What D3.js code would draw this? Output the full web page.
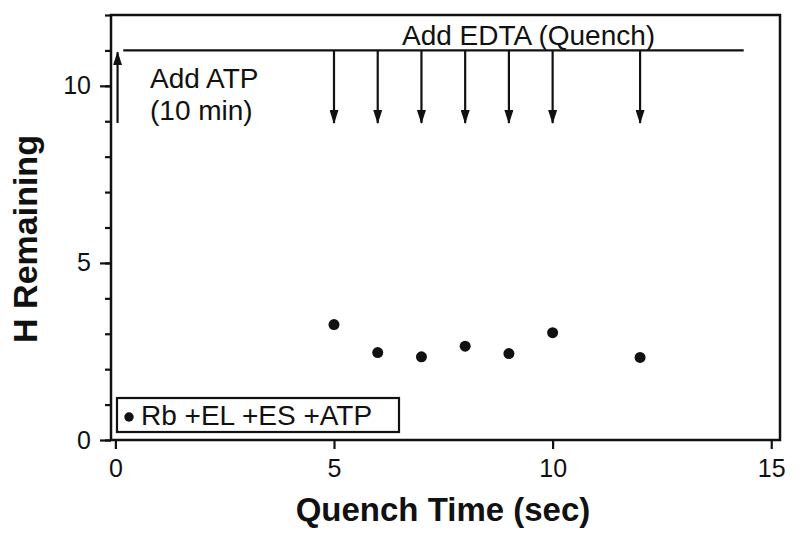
<!DOCTYPE html>
<html>
<head>
<meta charset="utf-8">
<script src="https://cdn.jsdelivr.net/npm/d3@7"></script>
<style>
    body { margin: 0; background: #fff; }
    svg { font-family: "Liberation Sans", Arial, Helvetica, sans-serif; }
    .tick-label { font-size: 25px; fill: #111; }
    .note { font-size: 28px; fill: #111; }
    .axis-title { font-size: 33px; font-weight: bold; fill: #111; }
</style>
</head>
<body>
<svg id="chart" width="800" height="544"></svg>
<script>
// data
const quench_times = [5, 6, 7, 8, 9, 10, 12];
const h_remaining = [3.26, 2.47, 2.35, 2.65, 2.44, 3.03, 2.33];
const x_ticks = [0, 5, 10, 15];
const y_ticks = [0, 5, 10];
const y_minor = [0, 1, 2, 3, 4, 5, 6, 7, 8, 9, 10, 11, 12];
const legend_label = "Rb +EL +ES +ATP";

const points = quench_times.map((t, i) => ({ t: t, h: h_remaining[i] }));

const svg = d3.select("#chart");

const x = d3.scaleLinear().domain([-0.1, 15.2]).range([111, 780]),
      y = d3.scaleLinear().domain([0, 12]).range([440, 15]);

// arrowheads (pointing along +x, rotated by orient)
const defs = svg.append("defs");
defs.append("marker")
    .attr("id", "head")
    .attr("viewBox", "0 0 14 9")
    .attr("refX", 13).attr("refY", 4.5)
    .attr("markerWidth", 14).attr("markerHeight", 9)
    .attr("markerUnits", "userSpaceOnUse")
    .attr("orient", "auto")
    .append("path")
    .attr("d", "M0,0 L14,4.5 L0,9 Z")
    .attr("fill", "#111");

// frame
svg.append("rect")
    .attr("x", x.range()[0])
    .attr("y", y.range()[1])
    .attr("width", x.range()[1] - x.range()[0])
    .attr("height", y.range()[0] - y.range()[1])
    .attr("fill", "none")
    .attr("stroke", "#111")
    .attr("stroke-width", 2.5);

// x axis ticks + labels
svg.append("g")
    .attr("transform", `translate(0, ${y.range()[0]})`)
    .call(d3.axisBottom(x).tickValues(x_ticks).tickSize(9).tickPadding(10).tickFormat(d3.format("d")))
    .call(g => g.select(".domain").remove())
    .call(g => g.selectAll("line").attr("stroke", "#111").attr("stroke-width", 2.2))
    .call(g => g.selectAll("text").attr("class", "tick-label").attr("font-family", null).attr("font-size", null));

// y axis: minor ticks then labelled ones
svg.append("g")
    .attr("transform", `translate(${x.range()[0]}, 0)`)
    .call(d3.axisLeft(y).tickValues(y_minor).tickSize(6).tickFormat(""))
    .call(g => g.select(".domain").remove())
    .call(g => g.selectAll("line").attr("stroke", "#111").attr("stroke-width", 2.2));

svg.append("g")
    .attr("transform", `translate(${x.range()[0]}, 0)`)
    .call(d3.axisLeft(y).tickValues(y_ticks).tickSize(11).tickPadding(9).tickFormat(d3.format("d")))
    .call(g => g.select(".domain").remove())
    .call(g => g.selectAll("line").attr("stroke", "#111").attr("stroke-width", 2.2))
    .call(g => g.selectAll("text").attr("class", "tick-label").attr("font-family", null).attr("font-size", null));

// axis titles
svg.append("text")
    .classed("axis-title", true)
    .attr("x", 443)
    .attr("y", 521)
    .attr("text-anchor", "middle")
    .text("Quench Time (sec)");

svg.append("text")
    .classed("axis-title", true)
    .attr("transform", "translate(37, 239) rotate(-90)")
    .attr("text-anchor", "middle")
    .style("font-size", "34px")
    .text("H Remaining");

// quench line + arrows
svg.append("line")
    .attr("x1", x(0.18)).attr("x2", x(14.37))
    .attr("y1", y(11)).attr("y2", y(11))
    .attr("stroke", "#111")
    .attr("stroke-width", 2.2);

svg.selectAll("line.quench-arrow")
    .data(quench_times)
    .enter()
    .append("line")
    .classed("quench-arrow", true)
    .attr("x1", d => x(d)).attr("x2", d => x(d))
    .attr("y1", y(11)).attr("y2", y(8.95))
    .attr("stroke", "#111")
    .attr("stroke-width", 2.2)
    .attr("marker-end", "url(#head)");

svg.append("text")
    .classed("note", true)
    .attr("x", 402)
    .attr("y", 45)
    .text("Add EDTA (Quench)");

// ATP arrow
svg.append("line")
    .attr("x1", x(0.05)).attr("x2", x(0.05))
    .attr("y1", y(8.95)).attr("y2", y(10.95))
    .attr("stroke", "#111")
    .attr("stroke-width", 2.2)
    .attr("marker-end", "url(#head)");

svg.append("text")
    .classed("note", true)
    .attr("x", 150)
    .attr("y", 88)
    .text("Add ATP");

svg.append("text")
    .classed("note", true)
    .attr("x", 150)
    .attr("y", 120)
    .text("(10 min)");

// points
svg.selectAll("circle.pt")
    .data(points)
    .enter()
    .append("circle")
    .classed("pt", true)
    .attr("cx", d => x(d.t))
    .attr("cy", d => y(d.h))
    .attr("r", 5.5)
    .attr("fill", "#111");

// legend
const lg = svg.append("g").attr("transform", "translate(117, 398)");
lg.append("rect")
    .attr("width", 282)
    .attr("height", 34)
    .attr("fill", "#fff")
    .attr("stroke", "#111")
    .attr("stroke-width", 2.2);
lg.append("circle")
    .attr("cx", 12)
    .attr("cy", 19)
    .attr("r", 4.7)
    .attr("fill", "#111");
lg.append("text")
    .classed("note", true)
    .attr("x", 24)
    .attr("y", 27)
    .text(legend_label);
</script>
</body>
</html>
